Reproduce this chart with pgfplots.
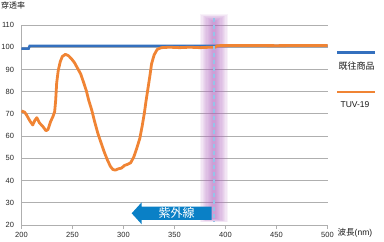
\documentclass[border=0pt]{standalone}
\usepackage{pgfplots}
\pgfplotsset{compat=1.18}
\usepackage{fontspec}
\setmainfont{Liberation Sans}
\newfontfamily\cjk{Noto Sans CJK JP}
\definecolor{cblue}{RGB}{52,112,190}
\definecolor{corange}{RGB}{240,132,52}
\definecolor{cband}{RGB}{178,106,192}
\definecolor{cdash}{RGB}{150,195,232}
\definecolor{carrow}{RGB}{10,128,198}
\definecolor{cgrid}{RGB}{175,175,175}
\begin{document}
\begin{tikzpicture}
\begin{axis}[
  scale only axis, width=306bp, height=200bp,
  xmin=200, xmax=500, ymin=20, ymax=110,
  xtick={200,250,...,500}, ytick={20,30,...,110},
  axis x line*=bottom, axis y line*=left,
  axis line style={cgrid, line width=0.8bp, -},
  ymajorgrids, grid style={cgrid, line width=0.8bp},
  tick align=outside, major tick length=4bp,
  x tick style={cgrid, line width=0.8bp},
  y tick style={draw=none},
  tick label style={font=\fontsize{7.5bp}{9bp}\selectfont, text=black!85},
  /pgf/number format/assume math mode=true,
  clip=false,
]
\fill[cband, fill opacity=0.09] (axis cs:375,21.3) rectangle (axis cs:402.4,114.8);
\fill[cband, fill opacity=0.09] (axis cs:376.3,21.45) rectangle (axis cs:401.1,114.5);
\fill[cband, fill opacity=0.09] (axis cs:377.6,21.6) rectangle (axis cs:399.8,114.2);
\fill[cband, fill opacity=0.09] (axis cs:378.9,21.75) rectangle (axis cs:398.5,113.9);
\fill[cband, fill opacity=0.09] (axis cs:380.1,21.9) rectangle (axis cs:397.3,113.6);
\fill[cband, fill opacity=0.09] (axis cs:381.3,22.05) rectangle (axis cs:396.1,113.3);
\fill[cband, fill opacity=0.09] (axis cs:382.4,22.2) rectangle (axis cs:395,113);
\fill[cband, fill opacity=0.09] (axis cs:383.5,22.35) rectangle (axis cs:393.9,112.7);
\fill[cband, fill opacity=0.09] (axis cs:384.5,22.5) rectangle (axis cs:392.9,112.4);
\fill[cband, fill opacity=0.09] (axis cs:385.5,22.65) rectangle (axis cs:391.9,112.1);
\fill[cband, fill opacity=0.08] (axis cs:386.4,22.8) rectangle (axis cs:391,111.8);
\addplot[cblue, line width=2.5bp] coordinates {
(200,99.4)(207,99.4)(208,100.6)(500,100.6)};
\addplot[corange, line width=2.8bp, line join=round] coordinates {
(200,71.3)(203,70.8)(205,69.5)(208,67)(211,65)(213,67)(215,68.3)(217.5,66)
(221,64.3)(224,62.4)(226,63)(228.5,66.5)(231,69)(232.5,71)(233.5,76)(234.5,84)
(236,89.5)(238,93.5)(240,95.8)(243,96.8)(246,96.2)(249,94.8)(252,93)(255,90.5)
(258,88)(261,84)(263.5,80.5)(266,76)(269,71.5)(272,66)(275,61)(278,57)(281,53)
(284,49.5)(287,46.5)(289.5,45)(292,44.7)(295,45.3)(298,45.6)(301,46.8)(304,47.3)
(307,48)(310,50.5)(313,54.5)(316,59)(318.5,65)(320.5,70.5)(322,75.5)(324,81.5)
(326,87.5)(327.5,92.5)(330,96.5)(333,99)(337,99.8)(345,100)(355,99.8)(365,100)
(375,99.8)(385,100)(390,100)(392,100.7)(420,100.8)(450,100.7)(480,100.8)(500,100.8)};
\draw[cdash, line width=1.6bp, dash pattern=on 4bp off 3bp]
  (axis cs:388.7,113) -- (axis cs:388.7,21.5);
\end{axis}
% arrow
\fill[carrow] (110.2bp,11.7bp) -- (120.2bp,22.7bp) -- (120.2bp,18.4bp) -- (190.2bp,18.4bp)
  -- (190.2bp,5bp) -- (120.2bp,5bp) -- (120.2bp,0.7bp) -- cycle;
\node[text=white, font=\cjk\fontsize{12bp}{14bp}\selectfont, inner sep=0pt] at (155bp,11.7bp) {紫外線};
% legend
\draw[cblue, line width=2.5bp] (315.5bp,172.5bp) -- (353.5bp,172.5bp);
\node[font=\cjk\fontsize{9bp}{11bp}\selectfont, inner sep=0pt, text=black!90] at (335bp,159bp) {既往商品};
\draw[corange, line width=2.8bp] (315.5bp,133bp) -- (353.5bp,133bp);
\node[font=\fontsize{8.5bp}{10bp}\selectfont, inner sep=0pt, text=black!90] at (333.5bp,120bp) {TUV-19};
% labels
\node[font=\cjk\fontsize{8bp}{10bp}\selectfont, inner sep=0pt, anchor=west, text=black!90] at (-20.5bp,220bp) {穿透率};
\node[font=\fontsize{8.5bp}{10bp}\selectfont, inner sep=0pt, anchor=west, text=black!90] at (316bp,-8bp) {{\cjk 波長}(nm)};
\pgfresetboundingbox
\useasboundingbox (-21.5bp,-17bp) rectangle (362.5bp,225bp);
\end{tikzpicture}
\end{document}
